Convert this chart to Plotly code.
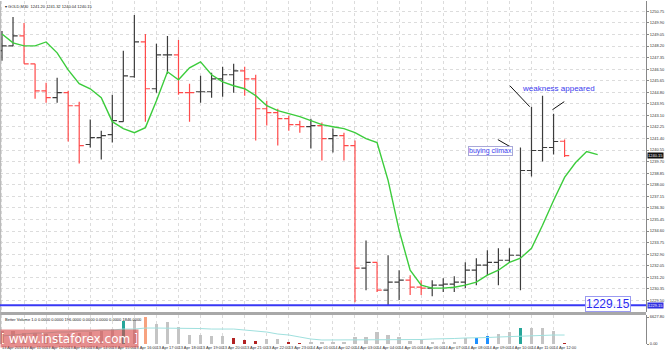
import plotly.graph_objects as go

# ---------------- data ----------------
opens = [1247.86, 1248.21, 1248.94, 1246.89, 1244.91, 1244.40, 1244.77, 1243.81, 1240.96, 1241.47,
         1241.69, 1242.64, 1245.94, 1248.50, 1245.06, 1247.55, 1247.55, 1244.77, 1244.84, 1244.84,
         1245.79, 1246.09, 1246.38, 1245.79, 1243.59, 1243.30, 1242.86, 1242.42, 1242.27, 1242.35,
         1241.39, 1241.61, 1240.88, 1231.87, 1232.30, 1230.25, 1230.84, 1230.99, 1230.47, 1230.40,
         1230.62, 1230.69, 1230.84, 1231.72, 1232.09, 1232.30, 1232.45, 1232.82, 1239.05, 1240.52,
         1240.74, 1241.20]
highs = [1249.31, 1250.34, 1249.90, 1246.89, 1245.50, 1245.87, 1244.91, 1244.11, 1242.79, 1241.98,
         1244.62, 1247.86, 1250.48, 1249.09, 1248.36, 1248.94, 1248.65, 1245.43, 1246.01, 1246.23,
         1246.67, 1246.89, 1246.67, 1246.09, 1244.18, 1243.59, 1243.08, 1242.71, 1242.86, 1242.57,
         1242.13, 1241.83, 1241.25, 1233.90, 1232.30, 1232.82, 1231.72, 1231.35, 1230.99, 1230.99,
         1231.13, 1231.28, 1232.30, 1232.60, 1233.18, 1233.33, 1233.33, 1240.74, 1243.74, 1244.55,
         1243.23, 1241.32]
lows = [1247.11, 1248.21, 1246.89, 1244.33, 1244.03, 1244.03, 1241.18, 1239.56, 1240.74, 1239.86,
        1241.10, 1242.64, 1245.87, 1242.64, 1244.77, 1246.16, 1244.62, 1242.64, 1244.03, 1244.40,
        1244.47, 1244.77, 1244.55, 1241.25, 1242.35, 1240.88, 1241.98, 1241.83, 1240.66, 1239.78,
        1240.37, 1239.78, 1229.37, 1230.25, 1230.11, 1229.15, 1229.52, 1229.89, 1229.89, 1229.81,
        1230.11, 1230.11, 1230.40, 1230.62, 1231.35, 1230.62, 1232.30, 1230.25, 1238.61, 1239.71,
        1240.22, 1240.04]
closes = [1248.21, 1248.94, 1246.89, 1244.91, 1244.40, 1244.77, 1243.81, 1240.88, 1241.47, 1241.61,
          1242.71, 1246.01, 1248.50, 1245.06, 1247.55, 1247.55, 1244.77, 1244.77, 1244.84, 1245.79,
          1246.09, 1246.38, 1245.79, 1243.59, 1243.30, 1242.86, 1242.42, 1242.27, 1242.35, 1241.39,
          1241.61, 1240.88, 1231.87, 1232.30, 1230.25, 1230.84, 1230.99, 1230.47, 1230.40, 1230.62,
          1230.69, 1230.84, 1231.72, 1232.09, 1232.30, 1232.45, 1232.82, 1239.05, 1240.52, 1240.74,
          1241.18, 1240.15]

# moving average (shifted 3 bars forward)
ma_values = [1249.09, 1248.43, 1248.21, 1248.21, 1248.50, 1247.70, 1246.45, 1245.43, 1245.06, 1244.40,
             1242.64, 1242.13, 1241.83, 1242.20, 1244.18, 1246.31, 1245.72, 1246.60, 1247.04, 1246.09,
             1245.57, 1245.28, 1245.06, 1244.55, 1243.81, 1243.45, 1243.23, 1243.01, 1242.71, 1242.42,
             1242.27, 1242.13, 1241.83, 1241.39, 1241.10, 1238.32, 1234.65, 1231.72, 1230.62, 1230.40,
             1230.40, 1230.47, 1230.62, 1230.84, 1231.35, 1231.72, 1232.30, 1232.60, 1233.33, 1235.02,
             1236.85, 1238.54, 1239.64, 1240.44, 1240.22]

volumes = [3185, 3185, 2695, 2695, 2450, 2205, 2450, 2695, 2940, 3185,
           3675, 5635, 5880, 6615, 4900, 5390, 4165, 2205, 2205, 1960,
           1960, 1470, 980, 735, 1225, 1225, 490, 120, 245, 245,
           245, 490, 1715, 1715, 2940, 2205, 1715, 735, 980, 490,
           490, 490, 1470, 1470, 1960, 2450, 2940, 3920, 3920, 3920,
           3185, 170]
volume_ma = [1960, 2205, 2450, 2695, 2695, 2940, 2940, 3185, 3185, 3430,
             3430, 3675, 3675, 3920, 3920, 3920, 3920, 3920, 3800, 3675,
             3675, 3675, 3430, 3185, 2940, 2450, 2205, 1715, 1225, 980,
             980, 980, 980, 980, 980, 980, 980, 980, 1100, 1225,
             1225, 1350, 1470, 1470, 1590, 1715, 1840, 1960, 2080, 2205,
             2205, 2205]
volume_kind = ["n"] * 52
for i in (11, 47):
    volume_kind[i] = "climax"
volume_kind[13] = "churn"
for i in (21, 22, 23, 26, 27, 51):
    volume_kind[i] = "low"
for i in (43, 44):
    volume_kind[i] = "blue"

time_labels = ["13 Apr 2016", "13 Apr 11:00", "13 Apr 12:00", "13 Apr 13:00", "13 Apr 14:00",
               "13 Apr 15:00", "13 Apr 16:00", "13 Apr 17:00", "13 Apr 18:00", "13 Apr 19:00",
               "13 Apr 20:00", "13 Apr 21:00", "13 Apr 22:00", "13 Apr 23:00", "14 Apr 01:00",
               "14 Apr 02:00", "14 Apr 03:00", "14 Apr 04:00", "14 Apr 05:00", "14 Apr 06:00",
               "14 Apr 07:00", "14 Apr 08:00", "14 Apr 09:00", "14 Apr 10:00", "14 Apr 11:00",
               "14 Apr 12:00"]
price_ticks = [1229.50, 1230.35, 1231.20, 1232.05, 1232.90, 1233.75, 1234.60, 1235.45, 1236.30,
               1237.15, 1238.00, 1238.85, 1239.70, 1240.55, 1241.40, 1242.25, 1243.10, 1243.95,
               1244.80, 1245.65, 1246.50, 1247.35, 1248.20, 1249.05, 1249.90, 1250.75]

support_level = 1229.15
current_price = 1240.15
header_text = "GOLD,M30  1241.20 1241.32 1240.04 1240.15"
vol_header = "Better Volume 1.0 0.0000 0.0000 196.0000 0.0000 0.0000 0.0000 1846.0000"
watermark = "[ www.instaforex.com ]"

# analyst trend lines: (bar index, price) pairs
trend_lines = [((44.95, 1241.32), (46.04, 1240.81)),
               ((46.04, 1245.28), (47.84, 1243.74)),
               ((49.90, 1243.52), (50.97, 1244.11))]

# ---------------- figure ----------------
n = len(opens)
idx = list(range(n))
ma_idx = list(range(len(ma_values)))
vol_colors_map = {"n": "#c4c4c4", "climax": "#26a69a", "churn": "#f7a27f",
                  "low": "#b22222", "blue": "#1e90ff"}
vcolors = [vol_colors_map[k] for k in volume_kind]

FONT = "Liberation Sans"
fig = go.Figure()
fig.add_trace(go.Ohlc(x=idx, open=opens, high=highs, low=lows, close=closes,
                      increasing_line_color="#3c3c3c", decreasing_line_color="#ff4a4a",
                      line_width=1.2, tickwidth=0.42, xaxis="x", yaxis="y",
                      showlegend=False, hoverinfo="skip"))
fig.add_trace(go.Scatter(x=ma_idx, y=ma_values, mode="lines",
                         line=dict(color="#3ccc3c", width=1.4), xaxis="x", yaxis="y",
                         showlegend=False, hoverinfo="skip"))
fig.add_trace(go.Bar(x=idx, y=volumes, marker_color=vcolors, marker_line_width=0, width=0.3,
                     xaxis="x2", yaxis="y2", showlegend=False, hoverinfo="skip"))
fig.add_trace(go.Scatter(x=idx, y=volume_ma, mode="lines", line=dict(color="#9fe0de", width=1),
                         xaxis="x2", yaxis="y2", showlegend=False, hoverinfo="skip"))

H = 344.0  # plot area height in px
def py(px):
    return 1 - px / H

xr = [-0.18, 58.38]
grid = dict(showgrid=True, gridcolor="#dcdcdc", griddash="dot", gridwidth=1)
label_vals = list(range(0, 2 * len(time_labels), 2))

fig.update_layout(
    width=665, height=353, margin=dict(l=0, r=15, t=0, b=9),
    paper_bgcolor="white", plot_bgcolor="white", bargap=0,
    font=dict(family=FONT, size=4, color="#333"),
    xaxis=dict(domain=[0, 1], range=xr, anchor="y", tickvals=label_vals, showticklabels=False,
               zeroline=False, rangeslider=dict(visible=False), showline=False, ticks="", **grid),
    xaxis2=dict(domain=[0, 1], range=xr, anchor="y2", matches="x", tickvals=label_vals,
                ticktext=time_labels, ticklabelposition="outside right", tickangle=0,
                tickfont=dict(size=4, color="#333"), zeroline=False, showline=False, ticks="",
                **grid),
    yaxis=dict(domain=[py(312), 1], range=[1228.64, 1251.51], side="right", tickvals=price_ticks,
               ticktext=[f"{v:.2f}" for v in price_ticks], tickfont=dict(size=4, color="#333"),
               showline=True, linecolor="#888", linewidth=1, ticks="outside", ticklen=2,
               tickcolor="#888", zeroline=False, **grid),
    yaxis2=dict(domain=[0, py(315)], range=[0, 7105], side="right", tickvals=[0, 6627.8],
                ticktext=["0.00", "6627.80"], tickfont=dict(size=4, color="#333"),
                showline=True, linecolor="#888", linewidth=1, ticks="outside", ticklen=2,
                tickcolor="#888", zeroline=False, showgrid=False),
)

shapes = []
# panel separator
shapes.append(dict(type="line", xref="paper", yref="paper", x0=0, x1=1.0, y0=py(313.5), y1=py(313.5),
                   line=dict(color="#a8a8a8", width=3)))
# left border
shapes.append(dict(type="line", xref="paper", yref="paper", x0=0.001, x1=0.001, y0=0, y1=1,
                   line=dict(color="#b0b0b0", width=1)))
# support level
shapes.append(dict(type="line", xref="paper", yref="y", x0=0, x1=1, y0=support_level, y1=support_level,
                   line=dict(color="#3838f5", width=2)))
for (a, b) in trend_lines:
    shapes.append(dict(type="line", xref="x", yref="y", x0=a[0], y0=a[1], x1=b[0], y1=b[1],
                       line=dict(color="#111", width=1)))
fig.update_layout(shapes=shapes)

ann = []
ann.append(dict(xref="paper", yref="paper", x=0.004, y=1, xanchor="left", yanchor="top", yshift=-1,
                text="\u25be " + header_text, showarrow=False, font=dict(size=4, color="#222")))
ann.append(dict(xref="paper", yref="paper", x=0.004, y=py(315), xanchor="left", yanchor="top",
                text=vol_header, showarrow=False, font=dict(size=4, color="#222")))
ann.append(dict(xref="x", yref="y", x=50.45, y=1245.06, text="weakness appeared", showarrow=False,
                font=dict(size=8, color="#3a3aee", family=FONT)))
ann.append(dict(xref="x", yref="y", x=44.3, y=1240.48, text="buying climax", showarrow=False,
                font=dict(size=7, color="#3a3aee", family=FONT), bordercolor="#a8a8d8",
                borderwidth=1, borderpad=0, bgcolor="white"))
ann.append(dict(xref="x", yref="y", x=54.95, y=support_level, yshift=1, text=f"{support_level:.2f}",
                showarrow=False, font=dict(size=12, color="#2a2af0", family=FONT),
                bordercolor="#9a9af0", borderwidth=1, borderpad=0, bgcolor="rgba(255,255,255,0.9)"))
ann.append(dict(xref="paper", yref="y", x=1, y=current_price, xanchor="left", xshift=1,
                text=f"{current_price:.2f}", showarrow=False, bgcolor="#111", borderpad=0,
                font=dict(size=4, color="white")))
ann.append(dict(xref="paper", yref="y", x=1, y=support_level, xanchor="left", xshift=1,
                text=f"{support_level:.2f}", showarrow=False, bgcolor="#3030e0", borderpad=0,
                font=dict(size=4, color="white")))
# watermark: semi-transparent red box with white text
ann.append(dict(xref="paper", yref="paper", x=0, y=py(329), xanchor="left", yanchor="top",
                text=watermark, showarrow=False, width=135, height=15, align="center",
                bgcolor="rgba(214,72,72,0.62)", borderpad=1,
                font=dict(size=12, color="white", family="DejaVu Sans")))
fig.update_layout(annotations=ann)

fig.write_html("out.html")
